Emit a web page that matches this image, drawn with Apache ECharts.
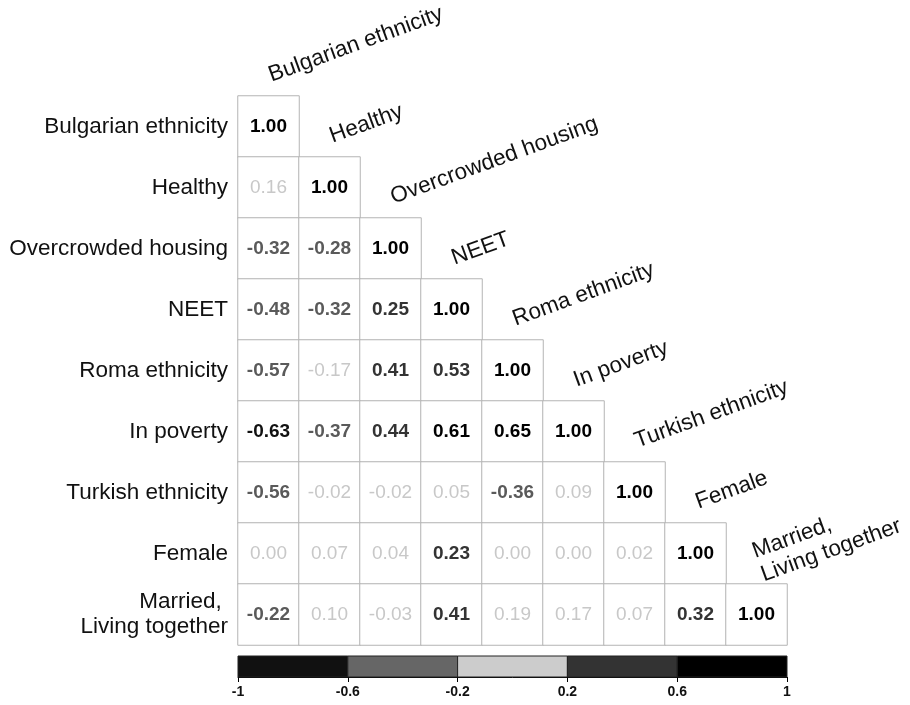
<!DOCTYPE html>
<html>
<head>
<meta charset="utf-8">
<script src="https://cdn.jsdelivr.net/npm/echarts@6/dist/echarts.min.js"></script>
<style>
  html, body { margin: 0; padding: 0; background: #fff; }
  #main { width: 910px; height: 705px; }
</style>
</head>
<body>
<div id="main"></div>
<script>
// variables, top to bottom
const names = ['Bulgarian ethnicity', 'Healthy', 'Overcrowded housing', 'NEET', 'Roma ethnicity',
  'In poverty', 'Turkish ethnicity', 'Female', 'Married, \nLiving together'];

// lower triangle, row by row
const corrRows = [
  [1.00],
  [0.16, 1.00],
  [-0.32, -0.28, 1.00],
  [-0.48, -0.32, 0.25, 1.00],
  [-0.57, -0.17, 0.41, 0.53, 1.00],
  [-0.63, -0.37, 0.44, 0.61, 0.65, 1.00],
  [-0.56, -0.02, -0.02, 0.05, -0.36, 0.09, 1.00],
  [0.00, 0.07, 0.04, 0.23, 0.00, 0.00, 0.02, 1.00],
  [-0.22, 0.10, -0.03, 0.41, 0.19, 0.17, 0.07, 0.32, 1.00]
];

// colour scale
const binEdges = [-1, -0.6, -0.2, 0.2, 0.6, 1];
const binColors = ['#111111', '#666666', '#cccccc', '#333333', '#000000'];
const textColors = ['#111111', '#5a5a5a', '#c8c8c8', '#333333', '#000000'];

const FONT = '"Liberation Sans", Arial, sans-serif';

function binOf(v) {
  for (let k = 0; k < binColors.length; k++) {
    if (v <= binEdges[k + 1]) return k;
  }
  return binColors.length - 1;
}

const cellData = [];
corrRows.forEach((row, i) => {
  row.forEach((v, j) => {
    const b = binOf(v);
    cellData.push({
      value: [j, i, v],
      label: { color: textColors[b], fontWeight: b === 2 ? 'normal' : 'bold' }
    });
  });
});

const diagData = names.map((n, i) => [i, i, n]);
const barData = binColors.map((c, k) => [binEdges[k], binEdges[k + 1], 0]);

const myChart = echarts.init(document.getElementById('main'));
const option = {
  backgroundColor: '#fff',
  animation: false,
  grid: [
    { left: 238, top: 96, width: 549, height: 549 },
    { left: 238, top: 656, width: 549, height: 21 }
  ],
  xAxis: [
    { type: 'category', gridIndex: 0, data: names, show: false },
    {
      type: 'value', gridIndex: 1, min: -1, max: 1, interval: 0.4,
      splitLine: { show: false },
      axisLine: { show: true, lineStyle: { color: '#000', width: 1 } },
      axisTick: { show: true, length: 5, lineStyle: { color: '#000' } },
      axisLabel: { fontFamily: FONT, fontSize: 14, fontWeight: 'bold', color: '#111', margin: 8 }
    }
  ],
  yAxis: [
    {
      type: 'category', gridIndex: 0, data: names, inverse: true,
      axisLine: { show: false }, axisTick: { show: false },
      axisLabel: { fontFamily: FONT, fontSize: 22.5, color: '#111', margin: 10, lineHeight: 25, align: 'right' }
    },
    { type: 'category', gridIndex: 1, data: ['bar'], show: false }
  ],
  series: [
    {
      type: 'heatmap',
      xAxisIndex: 0, yAxisIndex: 0,
      data: cellData,
      itemStyle: { color: '#fff', borderColor: '#b4b4b4', borderWidth: 1 },
      label: {
        show: true, fontFamily: FONT, fontSize: 19,
        formatter: p => p.value[2].toFixed(2)
      },
      emphasis: { disabled: true }
    },
    {
      type: 'custom',
      xAxisIndex: 0, yAxisIndex: 0,
      data: diagData,
      encode: { x: 0, y: 1 },
      renderItem: function (params, api) {
        const c = api.coord([api.value(0), api.value(1)]);
        const s = api.size([1, 1]);
        return {
          type: 'text',
          x: c[0] + 1,
          y: c[1] - s[1] / 2 - 20,
          rotation: 20 * Math.PI / 180,
          style: {
            text: names[params.dataIndex],
            fill: '#111',
            font: '22.5px ' + FONT,
            lineHeight: 25,
            align: 'left',
            verticalAlign: 'middle'
          }
        };
      }
    },
    {
      type: 'custom',
      xAxisIndex: 1, yAxisIndex: 1,
      data: barData,
      encode: { x: [0, 1], y: 2 },
      renderItem: function (params, api) {
        const p0 = api.coord([api.value(0), api.value(2)]);
        const p1 = api.coord([api.value(1), api.value(2)]);
        const h = api.size([0, 1])[1];
        return {
          type: 'rect',
          shape: { x: p0[0], y: p0[1] - h / 2, width: p1[0] - p0[0], height: h },
          style: { fill: binColors[params.dataIndex], stroke: '#222', lineWidth: 1 }
        };
      }
    }
  ]
};
myChart.setOption(option);
</script>
</body>
</html>
